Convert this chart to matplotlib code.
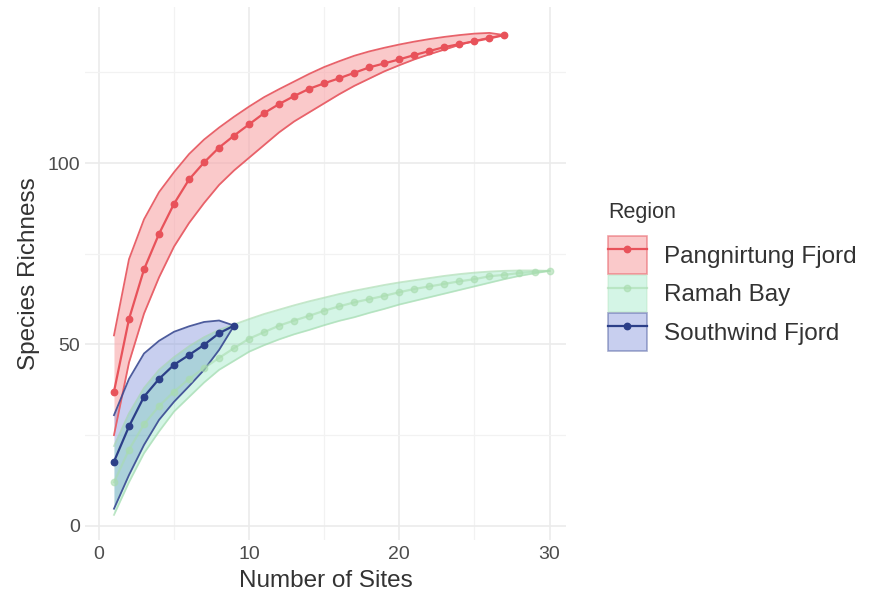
"""Species accumulation curves by region (rarefied richness with 95% band)."""
import matplotlib
matplotlib.use("Agg")
import matplotlib.pyplot as plt
from matplotlib.lines import Line2D
from matplotlib.patches import Patch

plt.rcParams.update({
    "font.family": ["Liberation Sans", "DejaVu Sans"],
    "axes.spines.top": False,
    "axes.spines.right": False,
    "axes.spines.left": False,
    "axes.spines.bottom": False,
})

# Pangnirtung Fjord
pang_sites = list(range(1, 28))
pang_rich = [37.0, 57.0, 70.7, 80.5, 88.8, 95.5, 100.2, 104.3, 107.6, 110.7,
             113.8, 116.3, 118.5, 120.5, 122.0, 123.4, 124.9, 126.4, 127.5,
             128.6, 129.8, 130.9, 132.0, 132.8, 133.6, 134.4, 135.3]
pang_upper = [52.5, 73.5, 84.5, 92.0, 97.5, 102.5, 106.5, 109.8, 112.8, 115.6,
              118.2, 120.4, 122.5, 124.6, 126.5, 128.1, 129.6, 130.8, 131.8,
              132.7, 133.5, 134.2, 134.8, 135.3, 135.7, 135.9, 135.3]
pang_lower = [25.0, 45.0, 58.5, 68.5, 77.0, 83.5, 89.0, 94.0, 98.0, 101.5,
              105.0, 108.5, 111.5, 114.0, 116.5, 119.0, 121.3, 123.3, 125.3,
              127.0, 128.6, 130.0, 131.3, 132.6, 133.7, 134.6, 135.3]

# Ramah Bay
ramah_sites = list(range(1, 31))
ramah_rich = [12.0, 21.0, 28.0, 33.0, 37.0, 40.5, 43.5, 46.3, 49.0, 51.6,
              53.4, 55.2, 56.6, 57.9, 59.3, 60.5, 61.6, 62.5, 63.4, 64.4,
              65.3, 66.0, 66.7, 67.4, 68.0, 68.8, 69.2, 69.7, 70.0, 70.3]
ramah_upper = [22.0, 31.0, 38.0, 43.0, 46.5, 49.5, 52.0, 54.0, 55.5, 57.0,
               58.4, 59.6, 60.8, 61.9, 62.9, 63.9, 64.8, 65.6, 66.4, 67.1,
               67.7, 68.3, 68.9, 69.4, 69.8, 70.1, 70.3, 70.4, 70.4, 70.3]
ramah_lower = [3.0, 12.0, 20.0, 26.0, 31.5, 35.5, 39.5, 43.0, 45.5, 48.0,
               49.8, 51.4, 52.8, 54.0, 55.3, 56.5, 57.5, 58.7, 59.8, 61.0,
               62.0, 63.0, 64.0, 65.0, 66.0, 67.0, 68.0, 68.9, 69.6, 70.3]

# Southwind Fjord
south_sites = list(range(1, 10))
south_rich = [17.7, 27.4, 35.6, 40.5, 44.4, 47.1, 49.9, 53.1, 55.2]
south_upper = [30.5, 40.5, 47.5, 51.0, 53.5, 55.0, 56.2, 56.6, 55.2]
south_lower = [4.7, 14.0, 22.3, 29.2, 34.2, 38.5, 43.0, 48.5, 55.2]

regions = ["Pangnirtung Fjord", "Ramah Bay", "Southwind Fjord"]
x_ticks = [0, 10, 20, 30]
y_ticks = [0, 50, 100]


def main() -> None:
    series = {
        "pang": (pang_sites, pang_rich, pang_upper, pang_lower),
        "ramah": (ramah_sites, ramah_rich, ramah_upper, ramah_lower),
        "south": (south_sites, south_rich, south_upper, south_lower),
    }
    # line/point colour, point alpha, ribbon fill, fill alpha, ribbon edge, edge alpha
    styles = {
        "pang": ("#e8525a", 1.0, "#f8a5a8", 0.6, "#e8626a", 1.0),
        "ramah": ("#a8dcae", 0.6, "#4fd89a", 0.24, "#9fd8a8", 0.6),
        "south": ("#2c3f88", 1.0, "#8596dc", 0.45, "#3a4a92", 0.9),
    }

    fig = plt.figure(figsize=(8.9, 5.97), dpi=100)
    ax = fig.add_axes([0.096, 0.095, 0.54, 0.893])

    # ribbons (green band lies over the blue one, giving the teal overlap)
    for z, key in zip([2.0, 2.1, 2.2], ["pang", "south", "ramah"]):
        x, m, up, lo = series[key]
        c, ca, fc, fa, ec, ea = styles[key]
        ax.fill_between(x, lo, up, color=fc, alpha=fa, linewidth=0, zorder=z)
    for key in ["pang", "ramah", "south"]:
        x, m, up, lo = series[key]
        c, ca, fc, fa, ec, ea = styles[key]
        ax.plot(x, up, color=ec, alpha=ea, linewidth=1.3, zorder=3)
        ax.plot(x, lo, color=ec, alpha=ea, linewidth=1.3, zorder=3)
        ax.plot(x, m, color=c, alpha=ca, linewidth=1.6, zorder=4)
        ax.plot(x, m, linestyle="none", marker="o", markersize=4.6,
                color=c, alpha=ca, zorder=5)

    ax.set_xlim(-0.9, 31.1)
    ax.set_ylim(-4, 143)
    ax.set_xticks(x_ticks)
    ax.set_yticks(y_ticks)
    ax.set_xticks([5, 15, 25], minor=True)
    ax.set_yticks([25, 75, 125], minor=True)
    ax.grid(True, which="major", color="#ebebeb", linewidth=1.2, zorder=0)
    ax.grid(True, which="minor", color="#f2f2f2", linewidth=0.9, zorder=0)
    ax.set_axisbelow(True)
    ax.tick_params(which="both", length=0, labelsize=14, colors="#4d4d4d",
                   pad=4)
    ax.set_xlabel("Number of Sites", fontsize=17.5, color="#333333",
                  labelpad=5)
    ax.set_ylabel("Species Richness", fontsize=17.5, color="#333333",
                  labelpad=5)

    handles = []
    for key in ["pang", "ramah", "south"]:
        c, ca, fc, fa, ec, ea = styles[key]
        patch = Patch(facecolor=fc, alpha=fa, edgecolor=ec, linewidth=1.2)
        line = Line2D([], [], color=c, alpha=ca, linewidth=1.6, marker="o",
                      markersize=4.6)
        handles.append((patch, line))
    leg = fig.legend(handles, regions, title="Region", loc="upper left",
                     bbox_to_anchor=(0.672, 0.678), frameon=False,
                     fontsize=17.5, title_fontsize=15.5, handlelength=1.6,
                     handleheight=2.0, labelspacing=0.04, handletextpad=0.7,
                     borderaxespad=0)
    leg._legend_box.align = "left"
    leg._legend_box.sep = 9.5
    for t in leg.get_texts():
        t.set_color("#333333")
    leg.get_title().set_color("#333333")

    fig.savefig("out.png", dpi=100)
    plt.close(fig)


if __name__ == "__main__":
    main()
